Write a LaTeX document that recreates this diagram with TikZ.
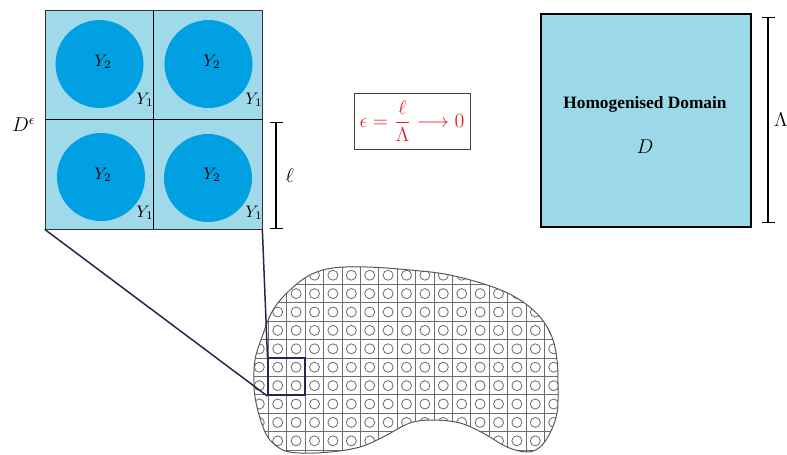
\documentclass[tikz,border=0pt]{standalone}
\usepackage{fontspec}
\setmainfont{Liberation Serif}
\usepackage{amsmath,amssymb}
\usetikzlibrary{arrows.meta, positioning}
\definecolor{cellblue}{RGB}{160, 218, 234}
\definecolor{inclblue}{RGB}{0, 160, 227}
\definecolor{homblue}{RGB}{155, 216, 233}
\definecolor{linknavy}{RGB}{35, 40, 78}
\definecolor{meshgray}{RGB}{110, 110, 110}
\definecolor{ratiored}{RGB}{228, 32, 38}
\newcommand{\blobshape}{plot[smooth cycle, tension=0.6] coordinates {
  (333,268) (367,267) (410,270) (450,275) (493,287) (520,300) (540,317)
  (552,337) (557,360) (558,387) (557,413) (550,433) (540,447) (527,452)
  (507,447) (483,433) (460,423) (433,420) (410,423) (383,437) (360,447)
  (330,452) (300,453) (283,450) (270,440) (263,427) (257,407) (254,387)
  (255,360) (262,337) (273,310) (290,290) (310,275)}}

\begin{document}
\begin{tikzpicture}[x=0.6pt, y=-0.6pt,
  meshline/.style={meshgray, line width=0.5pt},
  scalebar/.style={thick, {Bar[width=7.8pt]}-{Bar[width=7.8pt]}}]
  \useasboundingbox (0,0) rectangle (787,454);

  % periodic block D^eps with four cells
  \node[draw=black!80, fill=cellblue, minimum width=130.2pt, minimum height=131.4pt,
    inner sep=0pt] (cellbox) at (153.5,119.5) {};
  \foreach \cx/\cy in {99.5/64, 208.5/64, 101/177, 208/178}
    \fill[inclblue] (\cx,\cy) circle[radius=26.4pt];
  \draw[thick] (cellbox.north) -- (cellbox.south);
  \draw[thick] (cellbox.west) -- (cellbox.east);
  \foreach \cx/\cy/\n in {103/62/a, 212/62/b, 103/175/c, 212/175/d}
    \node (ytwo\n) at (\cx,\cy) {$Y_2$};
  \foreach \cx/\cy/\n in {145/100/a, 254/100/b, 145/213/c, 254/213/d}
    \node (yone\n) at (\cx,\cy) {$Y_1$};
  \node[left=2pt of cellbox, yshift=-3pt] (deps) {\large$D^{\epsilon}$};

  % cell size l
  \coordinate (ltop) at (276,122);
  \coordinate (lbot) at (276,229);
  \draw[scalebar] (ltop) -- (lbot) node[midway, right=2pt] (ell) {\large$\ell$};

  % scaling ratio
  \node[draw=black!75, minimum width=68.4pt, minimum height=33.6pt, text=ratiored]
    (ratio) at (412,121) {\large$\epsilon = \dfrac{\ell}{\Lambda} \longrightarrow 0$};

  % homogenised domain
  \node[draw, very thick, fill=homblue, minimum width=126pt, minimum height=127.8pt,
    inner sep=0pt] (homog) at (646,120.5) {};
  \node[font=\fontsize{10.4}{12}\selectfont\bfseries] (homtitle) at (645,104) {Homogenised Domain};
  \node (homD) at (645,147) {\large$D$};
  \coordinate (Ltop) at (768,17);
  \coordinate (Lbot) at (768,223);
  \draw[scalebar] (Ltop) -- (Lbot) node[midway, right=0pt] (Lam) {\large$\Lambda$};

  % heterogeneous body with periodic microstructure
  \begin{scope}
    \clip \blobshape;
    \foreach \i in {0,...,17}
      \draw[meshline] (250.1+18.4*\i,260) -- (250.1+18.4*\i,456);
    \foreach \j in {0,...,10}
      \draw[meshline] (245,266+18.4*\j) -- (565,266+18.4*\j);
    \foreach \i in {0,...,16}
      \foreach \j in {0,...,10}
        \draw[meshline] (259.3+18.4*\i,275.2+18.4*\j) circle[radius=3pt];
  \end{scope}
  \draw[meshgray!80!black, line width=0.6pt] \blobshape;

  % zoom onto 2x2 cells
  \node[draw=linknavy, line width=1.2pt, minimum size=22.1pt, inner sep=0pt]
    (zoombox) at (286.9,376.7) {};
  \draw[linknavy, line width=0.9pt] (cellbox.south west) -- (zoombox.south west);
  \draw[linknavy, line width=0.9pt] (cellbox.south east) -- (zoombox.north west);
\end{tikzpicture}
\end{document}
